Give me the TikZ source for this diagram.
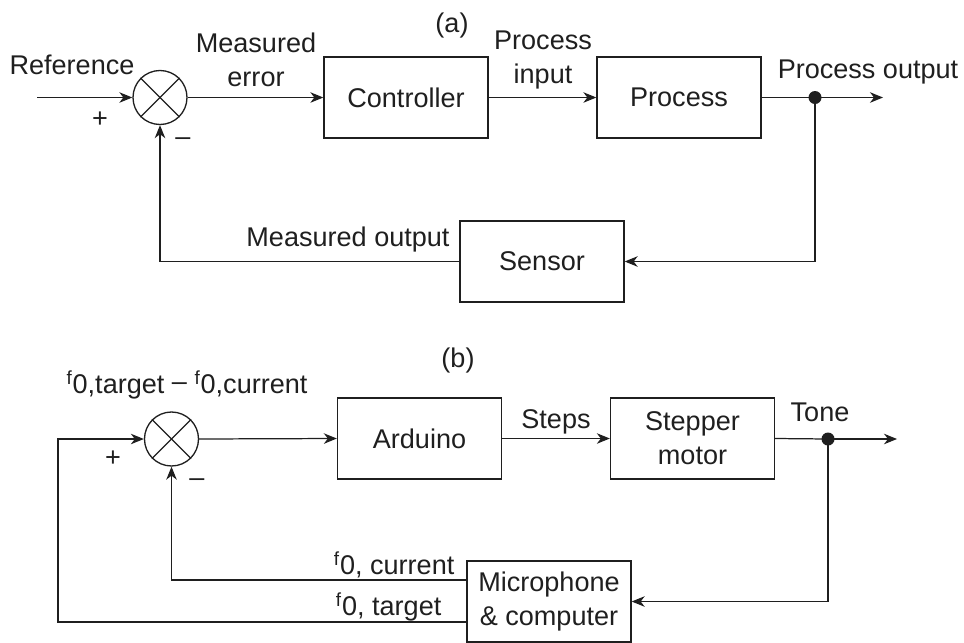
\documentclass[tikz,border=0pt]{standalone}
\usepackage{fontspec}
\setmainfont{Liberation Sans}
\usetikzlibrary{arrows.meta,calc}
\colorlet{ink}{black!88}
\begin{document}
\begin{tikzpicture}[
    font=\fontsize{15.4}{19.4}\selectfont,
    color=ink, line width=0.7pt,
    block/.style={draw, line width=0.75pt, rectangle, minimum width=3.28cm, minimum height=1.62cm, align=center, inner sep=0pt},
    sumnode/.style={draw, line width=0.75pt, circle, minimum size=1.08cm, inner sep=0pt},
    lbl/.style={inner sep=0pt, align=center},
    conn/.style={-{Stealth[length=2.6mm, width=2.1mm, inset=0.8mm]}},
    splitdot/.style={circle, fill=ink, draw=none, inner sep=0pt, minimum size=2.6mm}
]
    \useasboundingbox (0,0) rectangle (19.28,-12.84);

    % (a) generic loop
    \node[lbl] (titleA) at (9.04,-0.5) {(a)};
    \coordinate (inA) at (0.74,-1.95);
    \node[sumnode] (sumA) at (3.2,-1.95) {};
    \draw (sumA.north west) -- (sumA.south east);
    \draw (sumA.north east) -- (sumA.south west);
    \node[block] (ctrl) at (8.12,-1.95) {Controller};
    \node[block] (proc) at (13.58,-1.95) {Process};
    \node[block] (sensor) at (10.84,-5.23) {Sensor};
    \node[splitdot] (dotA) at (16.3,-1.95) {};
    \coordinate (outA) at (17.66,-1.95);

    \draw[conn] (inA) -- (sumA.west);
    \draw[conn] (sumA.east) -- (ctrl.west);
    \draw[conn] (ctrl.east) -- (proc.west);
    \draw (proc.east) -- (dotA.center);
    \draw[conn] (dotA.center) -- (outA);
    \draw[conn] (dotA.center) |- (sensor.east);
    \draw[conn] (sensor.west) -| (sumA.south);

    \node[lbl] (refA) at (1.44,-1.3) {Reference};
    \node[lbl] (errA) at (5.12,-1.2) {Measured\\error};
    \node[lbl] (pinA) at (10.86,-1.2) {Process\\input};
    \node[lbl] (poutA) at (17.36,-1.44) {Process output};
    \node[lbl] (plusA) at (2.0,-2.4) {+};
    \node[lbl] (minusA) at (3.66,-2.84) {–};
    \node[lbl] (measA) at (6.96,-4.78) {Measured output};

    % (b) tuning loop
    \node[lbl] (titleB) at (9.16,-7.2) {(b)};
    \node[lbl] (diffB) at (3.74,-7.7) {\textsuperscript{f}0,target \raisebox{0.25ex}{–} \textsuperscript{f}0,current};
    \node[sumnode] (sumB) at (3.43,-8.78) {};
    \draw (sumB.north west) -- (sumB.south east);
    \draw (sumB.north east) -- (sumB.south west);
    \node[block] (ardu) at (8.39,-8.77) {Arduino};
    \node[block] (motor) at (13.85,-8.77) {Stepper\\motor};
    \node[block] (micro) at (10.98,-12.03) {Microphone\\\& computer};
    \node[splitdot] (dotB) at (16.56,-8.78) {};
    \coordinate (outB) at (17.94,-8.78);
    \coordinate (curB) at ($(micro.west)+(0,0.43)$);
    \coordinate (tgtB) at ($(micro.west)+(0,-0.41)$);
    \coordinate (leftB) at (1.16,-12.44);

    \draw[conn] (sumB.east) -- (ardu.west);
    \draw[conn] (ardu.east) -- (motor.west);
    \draw (motor.east) -- (dotB.center);
    \draw[conn] (dotB.center) -- (outB);
    \draw[conn] (dotB.center) |- (micro.east);
    \draw[conn] (curB) -| (sumB.south);
    \draw[conn] (tgtB) -- (leftB) |- (sumB.west);

    \node[lbl] (stepsB) at (11.12,-8.44) {Steps};
    \node[lbl] (toneB) at (16.4,-8.24) {Tone};
    \node[lbl] (plusB) at (2.26,-9.18) {+};
    \node[lbl] (minusB) at (3.94,-9.66) {–};
    \node[lbl, anchor=east] (curLbl) at (9.1,-11.3) {\textsuperscript{f}0, current};
    \node[lbl, anchor=east] (tgtLbl) at (8.84,-12.14) {\textsuperscript{f}0, target};
\end{tikzpicture}
\end{document}
